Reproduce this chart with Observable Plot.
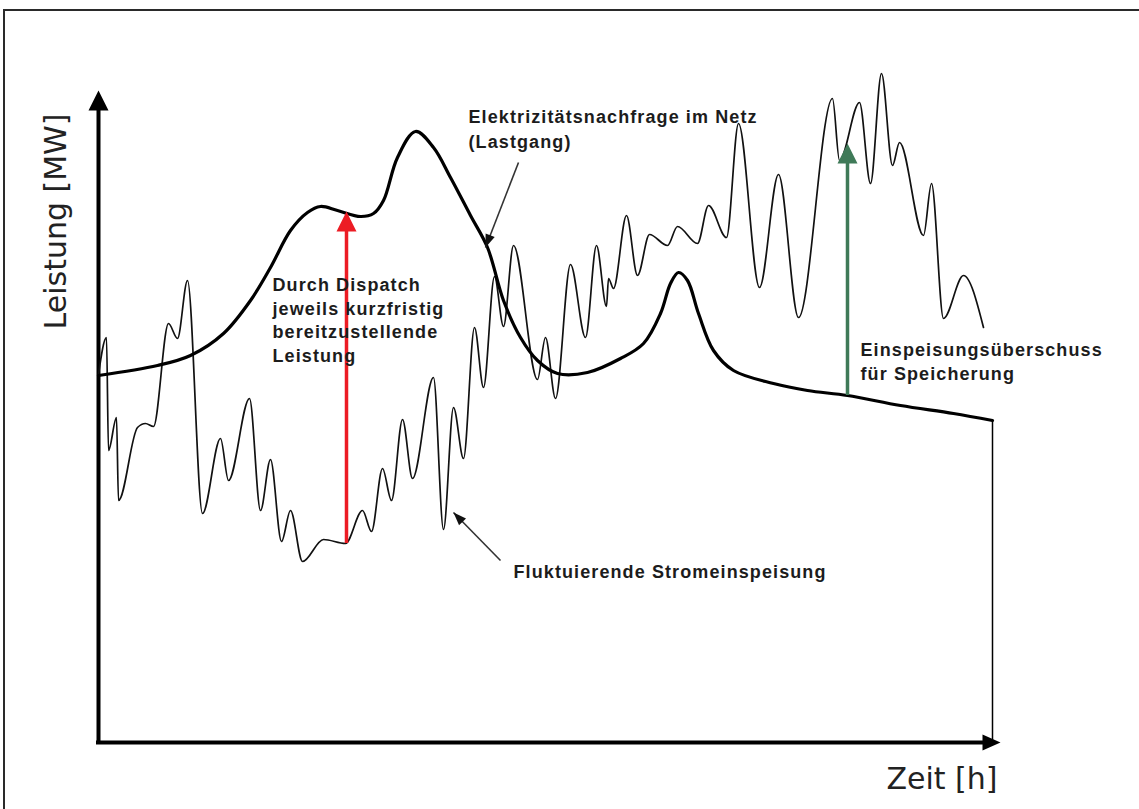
<!DOCTYPE html>
<html>
<head>
<meta charset="utf-8">
<script src="https://cdn.jsdelivr.net/npm/d3@7"></script>
<script src="https://cdn.jsdelivr.net/npm/@observablehq/plot@0.6"></script>
<style>
  html, body { margin: 0; padding: 0; background: #fff; overflow: hidden; }
  #wrap { position: relative; width: 1139px; height: 809px; }
  #frame { position: absolute; left: 3px; top: 9px; width: 1300px; height: 1000px;
           border: 2px solid #2a2a2a; pointer-events: none; }
  g[font-weight="bold"] { letter-spacing: 1.1px; }
</style>
</head>
<body>
<div id="wrap"><div id="frame"></div></div>
<script>
// ---- Data (schematic units: time 0..90, power 0..130) ----
// Thick line: Elektrizitätsnachfrage im Netz (Lastgang)
const demandT = [0, 5.9, 9.2, 12.5, 15.2, 17.2, 19.2, 20.9, 22.2, 23.9, 26.2, 27.5, 28.5, 29.9, 31.7, 33.5, 35.2, 37.2, 38.9, 40.5, 42.2, 43.9, 45.9, 48.9, 52.2, 54.5, 56.2, 57.2, 58, 58.9, 60, 61.5, 63.5, 67.5, 70.9, 74.9, 80.2, 85.5, 89.4];
const demandP = [73.4, 75.4, 77.4, 81.8, 88.4, 95, 102.4, 106, 107.2, 106.4, 105.2, 105.8, 108.4, 117, 122.2, 119, 113, 105.4, 99, 88.4, 81, 76.4, 73.8, 74, 76.8, 79.8, 85.8, 91.8, 94, 92.4, 85.8, 78.4, 74.4, 71.8, 70.4, 69.4, 67.4, 65.8, 64.4];

// Thin line: Fluktuierende Stromeinspeisung
const supplyT = [0, 0.8, 1, 1.8, 2, 3.9, 4.7, 5.5, 7, 7.9, 8.9, 10.4, 12.2, 13, 15.1, 16.2, 17.2, 18.3, 19.2, 20.4, 22.5, 24.7, 26.4, 27.3, 28.4, 29.3, 30.4, 31.4, 33.5, 34.5, 35.5, 36.5, 37.6, 38.5, 39.6, 40.5, 41.5, 43.9, 44.7, 45.7, 47.2, 48.7, 49.8, 50.8, 51, 51.5, 52.8, 53.9, 55.1, 56.9, 57.9, 59.9, 61, 62.8, 64, 66.1, 68, 70, 73.4, 74.1, 76.1, 77.2, 78.3, 79.4, 80.1, 82.5, 83.3, 84.5, 86.5, 88.5];
const supplyP = [73.6, 81, 58.4, 65, 48.4, 63, 63.8, 63.2, 83.8, 80.8, 92.4, 45.8, 60.8, 52.4, 68.8, 46.4, 56.6, 40.2, 46.4, 36.2, 40.6, 39.8, 46.4, 42.2, 54.8, 48.4, 64.6, 52.8, 73, 42.6, 67, 56.8, 83, 71, 93.2, 83.2, 99.4, 72.6, 81, 68.8, 95.6, 81, 99.4, 87.2, 92.8, 90.8, 105.4, 93.4, 101.6, 99.4, 103.2, 99.8, 107.4, 101, 123.8, 91, 113.6, 85, 128.8, 116.4, 128, 111.8, 133.8, 115.4, 120, 101.4, 111.8, 84.8, 93.4, 83];

// Vertical arrows (dispatch need / storage surplus)
const arrowNames = ["dispatch", "surplus"];
const arrowT = [24.8, 74.9];
const arrowFrom = [39.8, 69.4];
const arrowTo = [106.2, 119.8];
const arrowColors = ["#ec1c24", "#3f7a58"];

// Label pointers
const pointerX1 = [42.0, 40.2];
const pointerY1 = [116.0, 36.4];
const pointerX2 = [38.7, 35.5];
const pointerY2 = [99.0, 46.0];
const pointerAngle = [201, -44];

// Axes extent
const xAxisEnd = 90.2;
const yAxisEnd = 130.4;
const endT = 89.4;
const endP = 64.4;

// Texts
const xLabel = "Zeit [h]";
const yLabel = "Leistung [MW]";
const demandLabel = "Elektrizitätsnachfrage im Netz\n(Lastgang)";
const dispatchLabel = "Durch Dispatch\njeweils kurzfristig\nbereitzustellende\nLeistung";
const surplusLabel = "Einspeisungsüberschuss\nfür Speicherung";
const supplyLabel = "Fluktuierende Stromeinspeisung";

// ---- Build tables ----
const demand = demandT.map((t, i) => ({t, p: demandP[i]}));
const supply = supplyT.map((t, i) => ({t, p: supplyP[i]}));
const arrows = arrowNames.map((n, i) => ({n, t: arrowT[i], from: arrowFrom[i], to: arrowTo[i], color: arrowColors[i]}));
const pointers = pointerX1.map((x1, i) => ({x1, y1: pointerY1[i], x2: pointerX2[i], y2: pointerY2[i], a: pointerAngle[i]}));

// arrowhead symbol with tip at the origin, pointing up
function head(wRatio) {
  return {
    draw(ctx, size) {
      const L = Math.sqrt(size);
      const w = L * wRatio / 2;
      ctx.moveTo(0, 0);
      ctx.lineTo(-w, L);
      ctx.lineTo(w, L);
      ctx.closePath();
    }
  };
}
const bigHead = head(1.0);
const smallHead = head(0.75);
const rBig = 20 / Math.sqrt(Math.PI);
const rSmall = 13 / Math.sqrt(Math.PI);

const boldText = {fontFamily: "Liberation Sans, Arial, sans-serif", fontWeight: "bold", fontSize: 18, fill: "#1c1c1c", textAnchor: "start"};

const plot = Plot.plot({
  width: 1139,
  height: 809,
  marginLeft: 98,
  marginRight: 141,
  marginTop: 92,
  marginBottom: 67,
  x: {domain: [0, 90], axis: null},
  y: {domain: [0, 130], axis: null},
  style: {background: "transparent", overflow: "visible"},
  marks: [
    // axes
    Plot.ruleX([0], {y1: 0, y2: yAxisEnd - 3, stroke: "#000", strokeWidth: 4, strokeLinecap: "square"}),
    Plot.ruleY([0], {x1: 0, x2: xAxisEnd - 1.5, stroke: "#000", strokeWidth: 4, strokeLinecap: "square"}),
    Plot.dot([{x: 0, y: yAxisEnd}], {x: "x", y: "y", symbol: bigHead, r: rBig, fill: "#000", stroke: "none"}),
    Plot.dot([{x: xAxisEnd, y: 0}], {x: "x", y: "y", symbol: head(0.9), r: 18 / Math.sqrt(Math.PI), rotate: 90, fill: "#000", stroke: "none"}),
    // end drop line
    Plot.ruleX([endT], {y1: 0, y2: endP, stroke: "#000", strokeWidth: 1.5}),
    // fluctuating supply
    Plot.line(supply, {x: "t", y: "p", curve: "monotone-x", stroke: "#111", strokeWidth: 1.7}),
    // demand
    Plot.line(demand, {x: "t", y: "p", curve: "catmull-rom", stroke: "#000", strokeWidth: 3.2, strokeLinejoin: "round"}),
    // vertical arrows
    Plot.ruleX(arrows, {x: "t", y1: "from", y2: d => d.to - 4, stroke: "color", strokeWidth: 3.5}),
    Plot.dot(arrows, {x: "t", y: "to", symbol: bigHead, r: rBig, fill: "color", stroke: "none"}),
    // pointers
    Plot.link(pointers, {x1: "x1", y1: "y1", x2: "x2", y2: "y2", stroke: "#333", strokeWidth: 1.6}),
    Plot.dot(pointers, {x: "x2", y: "y2", rotate: "a", symbol: smallHead, r: rSmall, fill: "#111", stroke: "none"}),
    // axis labels
    Plot.text([yLabel], {x: -4.2, y: 104.2, rotate: -90, text: d => d, fontFamily: "DejaVu Sans, Verdana, sans-serif", fontSize: 30, fill: "#222", textAnchor: "middle"}),
    Plot.text([xLabel], {x: 89.9, y: -7.4, text: d => d, fontFamily: "DejaVu Sans, Verdana, sans-serif", fontSize: 30, fill: "#222", textAnchor: "end"}),
    // annotations
    Plot.text([demandLabel], {x: 37.0, y: 123.1, text: d => d, lineHeight: 1.39, ...boldText}),
    Plot.text([dispatchLabel], {x: 17.4, y: 84.7, text: d => d, lineHeight: 1.32, ...boldText}),
    Plot.text([surplusLabel], {x: 76.2, y: 76.4, text: d => d, lineHeight: 1.33, ...boldText}),
    Plot.text([supplyLabel], {x: 41.5, y: 34.0, text: d => d, ...boldText})
  ]
});
plot.style.position = "absolute";
plot.style.left = "0px";
plot.style.top = "0px";
document.getElementById("wrap").prepend(plot);
</script>
</body>
</html>
